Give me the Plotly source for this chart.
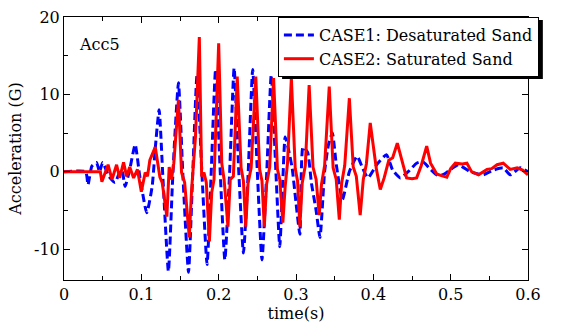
import plotly.graph_objects as go

# ---- data ----
red_t = [0, 0.047, 0.049, 0.057, 0.062, 0.068, 0.072, 0.077, 0.081, 0.085, 0.090, 0.095,
         0.100, 0.105, 0.108, 0.111, 0.118, 0.122, 0.124, 0.127, 0.133, 0.136, 0.139, 0.142,
         0.148, 0.152, 0.156, 0.162, 0.165, 0.170, 0.175, 0.178, 0.181, 0.184, 0.188, 0.191,
         0.194, 0.200, 0.204, 0.207, 0.212, 0.215, 0.219, 0.224, 0.229, 0.232, 0.235, 0.238,
         0.242, 0.248, 0.253, 0.256, 0.259, 0.262, 0.266, 0.271, 0.276, 0.279, 0.283, 0.286,
         0.289, 0.294, 0.299, 0.302, 0.305, 0.308, 0.312, 0.317, 0.322, 0.326, 0.330, 0.333,
         0.337, 0.343, 0.348, 0.352, 0.356, 0.359, 0.363, 0.369, 0.374, 0.378, 0.383, 0.387,
         0.391, 0.396, 0.400, 0.404, 0.409, 0.414, 0.420, 0.425, 0.431, 0.437, 0.443, 0.450,
         0.456, 0.462, 0.469, 0.474, 0.482, 0.488, 0.495, 0.500, 0.506, 0.515, 0.521, 0.527,
         0.536, 0.547, 0.553, 0.560, 0.568, 0.577, 0.586, 0.593, 0.600]
red_v = [0, 0, -1.3, 0.9, -1.0, 0.9, -0.8, 1.2, -0.6, 0.6, -0.8, 0.3,
         -2.6, -0.1, -0.6, 1.5, 3.2, 0.6, -0.7, -1.4, -5.8, 0.6, -1.0, 1.1,
         9.3, -0.1, -1.4, -8.5, -2.3, 4.5, 17.4, -0.6, -0.1, -1.4, -9.0, -2.7,
         -1.0, 16.6, 1.1, -1.0, -7.1, -1.0, -0.6, 12.3, 0.5, -1.2, -7.1, -1.5,
         0.5, 12.3, 0.3, -1.2, -7.1, -1.6, 0.6, 12.1, 0.3, -1.0, -6.6, -1.9,
         1.1, 12.1, 0.4, -1.2, -7.1, -1.5, 0.8, 11.2, 0.6, -1.0, -5.6, -1.6,
         0.8, 11.0, 0.5, -1.0, -6.2, -1.5, 0.8, 9.5, 0.6, -0.6, -5.6, -1.0,
         1.0, 6.3, 3.2, 0.3, -2.3, -0.8, 1.5, 1.8, 3.7, 1.5, -0.8, -0.9,
         -0.8, 0.8, 3.3, 1.1, -0.3, -0.5, -0.7, 0.4, 1.1, 1.0, 1.1, 0.0,
         -0.4, 0.3, 0.4, 0.9, 1.1, 0.3, 0.5, 0.2, -0.4]

blue_t = [0, 0.028, 0.031, 0.036, 0.042, 0.046, 0.050, 0.058, 0.066, 0.071, 0.075, 0.079,
          0.085, 0.092, 0.098, 0.107, 0.114, 0.118, 0.123, 0.128, 0.135, 0.140, 0.143, 0.148,
          0.154, 0.161, 0.166, 0.172, 0.178, 0.185, 0.190, 0.196, 0.202, 0.208, 0.214, 0.220,
          0.226, 0.232, 0.238, 0.244, 0.250, 0.256, 0.262, 0.268, 0.274, 0.279, 0.283, 0.286,
          0.290, 0.295, 0.300, 0.305, 0.309, 0.315, 0.320, 0.326, 0.331, 0.337, 0.342, 0.347,
          0.352, 0.360, 0.369, 0.379, 0.386, 0.393, 0.405, 0.417, 0.425, 0.435, 0.445, 0.456,
          0.464, 0.472, 0.482, 0.490, 0.500, 0.510, 0.525, 0.542, 0.555, 0.568, 0.577, 0.590,
          0.600]
blue_v = [0, 0, -1.7, 0.7, 1.2, 0, 1.2, -0.6, -1.4, -0.3, 0.2, -1.9,
          0.3, 3.5, -0.6, -5.3, -1.9, 3.0, 8.0, -1.0, -12.9, -2.0, 4.0, 11.5,
          -1.0, -13.0, -1.5, 12.5, 0.5, -12.0, -1.0, 13.2, 0.0, -11.4, -0.5, 13.4,
          0.0, -10.5, -0.5, 13.2, 0.0, -11.4, -0.5, 12.5, 0.0, -9.7, -1.0, 4.5,
          3.0, 0.5, -4.0, -8.1, 3.2, 2.5, -1.5, -5.0, -8.5, 0.0, 3.5, 5.0,
          1.0, -3.6, 0.0, 2.0, 0.5, -0.8, 1.0, 2.2, 0.2, -0.8, 0.0, 1.1,
          1.3, 0.5, -0.4, -0.4, 0.3, 0.9, 0.0, -0.4, 0.2, 0.5, -0.4, 0.5,
          0.0]

x_ticks = [0, 0.1, 0.2, 0.3, 0.4, 0.5, 0.6]
x_labels = ["0", "0.1", "0.2", "0.3", "0.4", "0.5", "0.6"]
y_ticks = [-10, 0, 10, 20]
y_labels = ["-10", "0", "10", "20"]

FONT = "DejaVu Serif"
FS = 16

fig = go.Figure()
fig.add_trace(go.Scatter(x=blue_t, y=blue_v, mode="lines", name="CASE1: Desaturated Sand",
                         line=dict(color="#0000FF", width=3, dash="8px,4px", shape="spline",
                                   smoothing=0.5)))
fig.add_trace(go.Scatter(x=red_t, y=red_v, mode="lines", name="CASE2: Saturated Sand",
                         line=dict(color="#FF0000", width=3)))

axis_common = dict(showline=True, linecolor="black", linewidth=1, mirror="allticks",
                   ticks="inside", ticklen=6, tickcolor="black", showgrid=False,
                   zeroline=False, tickfont=dict(family=FONT, size=FS, color="black"))

fig.update_xaxes(range=[0, 0.6], tickvals=x_ticks, ticktext=x_labels,
                 minor=dict(dtick=0.05, ticks="inside", ticklen=4, tickcolor="black"),
                 title=dict(text="time(s)", font=dict(family=FONT, size=FS, color="black"),
                            standoff=4),
                 **axis_common)
fig.update_yaxes(range=[-14, 20], tickvals=y_ticks, ticktext=y_labels,
                 minor=dict(dtick=5, ticks="inside", ticklen=4, tickcolor="black"),
                 title=dict(text="Acceleration (G)", font=dict(family=FONT, size=FS, color="black"),
                            standoff=8),
                 **axis_common)

fig.update_layout(
    width=562, height=331,
    margin=dict(l=64, r=34, t=17, b=51, autoexpand=False),
    paper_bgcolor="white", plot_bgcolor="white",
    font=dict(family=FONT, size=FS, color="black"),
    showlegend=True,
    legend=dict(x=0.461, y=1.0, xanchor="left", yanchor="top",
                bgcolor="white", bordercolor="black", borderwidth=1,
                font=dict(family=FONT, size=FS, color="black"),
                tracegroupgap=0, itemwidth=30),
    annotations=[dict(text="Acc5", xref="paper", yref="paper", x=0.028, y=0.894,
                      xanchor="left", yanchor="middle", showarrow=False,
                      font=dict(family=FONT, size=FS, color="black"))],
    shapes=[dict(type="rect", xref="paper", yref="paper",
                 x0=0.470, x1=1.032, y0=0.764, y1=0.989,
                 fillcolor="black", line=dict(width=0), layer="above")],
)

fig.write_html("out.html")
